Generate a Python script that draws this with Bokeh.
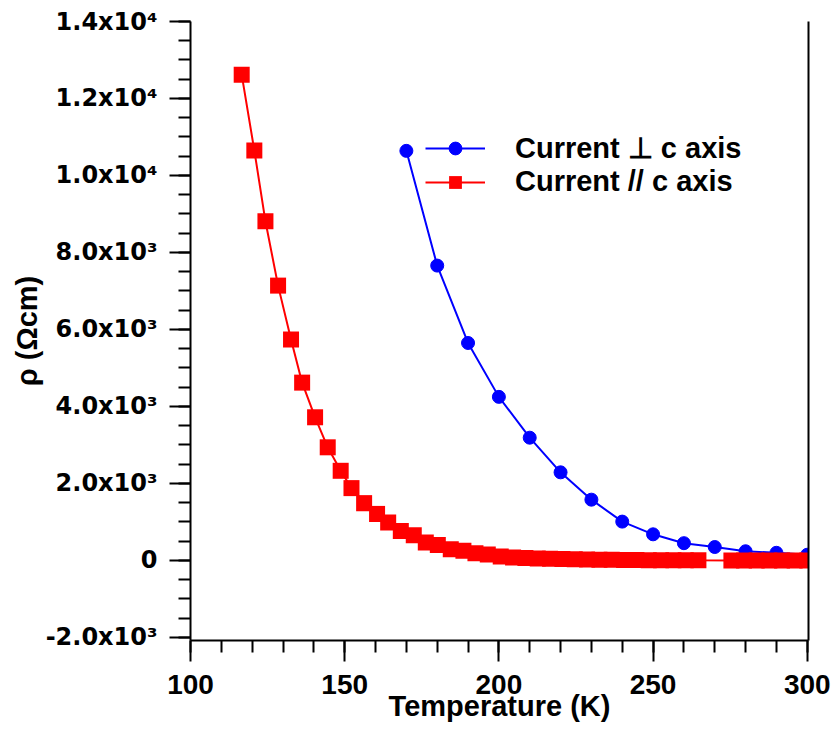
from bokeh.plotting import figure
from bokeh.models import (Range1d, SingleIntervalTicker, LinearAxis, FixedTicker,
                          Legend, LegendItem)
from bokeh.embed import file_html
from bokeh.resources import INLINE

# Current perpendicular to c axis (blue circles)
t_perp = [170, 180, 190, 200, 210, 220, 230, 240, 250, 260, 270, 280, 290, 300]
rho_perp = [10640, 7660, 5650, 4250, 3190, 2290, 1580, 1010, 680, 450, 350, 240, 200, 150]

# Current parallel to c axis (red squares)
t_par = [116.6, 120.7, 124.3, 128.4, 132.6, 136.2, 140.4, 144.5, 148.7, 152.2,
         156.3, 160.5, 164.1, 168.2, 172.4, 176.3, 180.2, 184.4, 188.5, 192.4,
         196.4, 200.6, 204.6, 208.6, 212.6, 216.6, 220.6, 224.6, 228.6, 232.6,
         236.6, 240.6, 244.6, 248.6, 252.6, 256.6, 260.6, 264.7, 275.4, 279.5,
         283.6, 287.7, 291.8, 295.9, 300.0]
rho_par = [12620, 10650, 8810, 7140, 5740, 4620, 3720, 2940, 2330, 1880,
           1490, 1210, 985, 765, 655, 465, 400, 295, 250, 190,
           155, 105, 75, 62, 52, 44, 38, 32, 27, 22,
           18, 14, 11, 9, 7, 6, 5, 4, 3, 3,
           2, 2, 2, 1, 1]

y_tick_labels = {14000: "1.4x10⁴", 12000: "1.2x10⁴", 10000: "1.0x10⁴",
                 8000: "8.0x10³", 6000: "6.0x10³", 4000: "4.0x10³",
                 2000: "2.0x10³", 0: "0", -2000: "-2.0x10³"}

label_perp = "Current ⊥ c axis"
label_par = "Current // c axis"

FONT = "Liberation Sans"

p = figure(width=833, height=731, output_backend="svg", toolbar_location=None,
           x_range=Range1d(100, 300.4), y_range=Range1d(-2078, 14000),
           x_axis_type=None, y_axis_type=None,
           min_border_left=190, min_border_right=25, min_border_top=21,
           min_border_bottom=91)
p.outline_line_color = None
p.background_fill_color = "white"
p.border_fill_color = "white"

# bottom axis
xaxis = LinearAxis(ticker=SingleIntervalTicker(interval=50, num_minor_ticks=5),
                   axis_label="Temperature (K)")
# left axis
yaxis = LinearAxis(ticker=SingleIntervalTicker(interval=2000, num_minor_ticks=4),
                   axis_label="ρ (Ωcm)")
yaxis.major_label_overrides = y_tick_labels

for ax in (xaxis, yaxis):
    ax.axis_line_width = 2
    ax.axis_line_color = "black"
    ax.major_tick_line_width = 2
    ax.minor_tick_line_width = 2
    ax.major_tick_in = 0
    ax.minor_tick_in = 0
    ax.major_tick_out = 21
    ax.minor_tick_out = 12
    ax.axis_label_text_font = FONT
    ax.axis_label_text_font_style = "bold"
    ax.axis_label_text_font_size = "29px"
    ax.axis_label_text_color = "black"
    ax.major_label_text_font_style = "bold"
    ax.major_label_text_color = "black"

xaxis.major_label_text_font = FONT
xaxis.major_label_text_font_size = "28px"
xaxis.major_label_standoff = 13
xaxis.axis_label_standoff = -7

yaxis.major_label_text_font = "DejaVu Sans"
yaxis.major_label_text_font_size = "24px"
yaxis.major_label_standoff = 12
yaxis.axis_label_standoff = 0

p.add_layout(xaxis, "below")
p.add_layout(yaxis, "left")

# right border line
raxis = LinearAxis(ticker=FixedTicker(ticks=[]), axis_line_width=2,
                   major_tick_out=0, major_tick_in=0, minor_tick_out=0, minor_tick_in=0,
                   major_label_standoff=0)
p.add_layout(raxis, "right")

bl = p.line(t_perp, rho_perp, line_color="#0000ff", line_width=2)
bs = p.scatter(t_perp, rho_perp, marker="circle", size=13,
               fill_color="#0000ff", line_color="#0000ff")
rl = p.line(t_par, rho_par, line_color="#ff0000", line_width=2)
rs = p.scatter(t_par, rho_par, marker="square", size=16,
               fill_color="#ff0000", line_color="#ff0000", line_width=0)

legend = Legend(items=[LegendItem(label=label_perp, renderers=[bl, bs]),
                       LegendItem(label=label_par, renderers=[rl, rs])],
                location=(235, 442), glyph_width=60, glyph_height=32,
                label_height=32, label_standoff=30, spacing=0, padding=0,
                margin=0, border_line_color=None, background_fill_alpha=0,
                label_text_font=FONT, label_text_font_style="bold",
                label_text_font_size="29px", label_text_color="black")
p.add_layout(legend)

open("out.html", "w").write(file_html(p, INLINE))
